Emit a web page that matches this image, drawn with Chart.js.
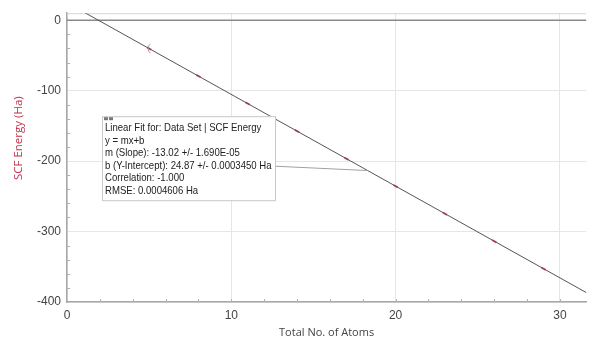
<!DOCTYPE html>
<html>
<head>
<meta charset="utf-8">
<script src="https://cdn.jsdelivr.net/npm/chart.js@4.4.0/dist/chart.umd.min.js"></script>
<style>
  html, body { margin: 0; padding: 0; background: #fff; }
  #wrap { width: 592px; height: 339px; position: relative; }
</style>
</head>
<body>
<div id="wrap"><canvas id="fitChart" width="592" height="339"></canvas></div>
<script>
// measured data (Total No. of Atoms vs SCF Energy)
const atoms = [5, 8, 11, 14, 17, 20, 23, 26, 29];
const energies = [-40.23, -79.29, -118.35, -157.41, -196.47, -235.53, -274.59, -313.65, -352.71];

// linear fit result shown in the annotation box
const fitSlope = -13.02;
const fitIntercept = 24.87;
const fitRange = [0, 32];

const xTicks = [0, 10, 20, 30];
const yTicks = [0, -100, -200, -300, -400];

const yTitle = 'SCF Energy (Ha)';
const fitLines = [
    'Linear Fit for: Data Set | SCF Energy',
    'y = mx+b',
    'm (Slope): -13.02 +/- 1.690E-05',
    'b (Y-Intercept): 24.87 +/- 0.0003450 Ha',
    'Correlation: -1.000',
    'RMSE: 0.0004606 Ha'
];

const points = atoms.map((x, i) => ({ x: x, y: energies[i] }));
const fitPoints = fitRange.map(x => ({ x: x, y: fitSlope * x + fitIntercept }));

// extra decorations: zero line, minor ticks, error bar, fit annotation
const decorPlugin = {
    id: 'decor',
    beforeDatasetsDraw(chart) {
        const { ctx, chartArea, scales } = chart;
        const xs = scales.x, ys = scales.y;
        ctx.save();
        // top border
        ctx.strokeStyle = '#d6d6d6';
        ctx.lineWidth = 1;
        ctx.beginPath();
        ctx.moveTo(chartArea.left, chartArea.top + 0.5);
        ctx.lineTo(chartArea.right, chartArea.top + 0.5);
        ctx.stroke();
        // zero line
        const y0 = ys.getPixelForValue(0);
        ctx.strokeStyle = '#8a8a8a';
        ctx.lineWidth = 1.5;
        ctx.beginPath();
        ctx.moveTo(chartArea.left, y0);
        ctx.lineTo(chartArea.right, y0);
        ctx.stroke();
        // minor ticks on x axis
        ctx.strokeStyle = '#b0b0b0';
        ctx.lineWidth = 1;
        for (let v = 2; v < xs.max; v += 2) {
            const px = Math.round(xs.getPixelForValue(v)) + 0.5;
            ctx.beginPath();
            ctx.moveTo(px, chartArea.bottom);
            ctx.lineTo(px, chartArea.bottom - 3);
            ctx.stroke();
        }
        // minor ticks on y axis
        for (let v = -380; v < 0; v += 20) {
            if (v % 100 === 0) continue;
            const py = Math.round(ys.getPixelForValue(v)) + 0.5;
            ctx.beginPath();
            ctx.moveTo(chartArea.left, py);
            ctx.lineTo(chartArea.left + 3, py);
            ctx.stroke();
        }
        ctx.restore();
    },
    afterDatasetsDraw(chart) {
        const { ctx, chartArea, scales } = chart;
        const xs = scales.x, ys = scales.y;
        ctx.save();
        // small error bracket on first point
        const ex = xs.getPixelForValue(atoms[0]);
        const ey = ys.getPixelForValue(energies[0]);
        ctx.strokeStyle = '#999';
        ctx.lineWidth = 1;
        ctx.beginPath();
        ctx.arc(ex + 5, ey, 6, Math.PI * 0.72, Math.PI * 1.28);
        ctx.stroke();

        // annotation box
        const bx = chartArea.left + 35, by = chartArea.top + 103;
        const bw = 173, bh = 84;
        // leader line to fit
        const lx = 18.3;
        ctx.strokeStyle = '#a0a0a0';
        ctx.beginPath();
        ctx.moveTo(bx + bw, by + 50);
        ctx.lineTo(xs.getPixelForValue(lx), ys.getPixelForValue(fitSlope * lx + fitIntercept));
        ctx.stroke();

        ctx.fillStyle = '#fff';
        ctx.fillRect(bx, by, bw, bh);
        ctx.strokeStyle = '#c8c8c8';
        ctx.strokeRect(bx + 0.5, by + 0.5, bw, bh);
        ctx.fillStyle = '#777';
        ctx.fillRect(bx + 2, by + 1, 4, 3);
        ctx.fillRect(bx + 7, by + 1, 4, 3);
        ctx.fillStyle = '#222';
        ctx.font = '10.3px "Liberation Sans", Arial, sans-serif';
        ctx.textBaseline = 'middle';
        fitLines.forEach((t, i) => {
            const w = ctx.measureText(t).width * 0.93;
            ctx.fillText(t, bx + 3, by + 12 + i * 12.6, w);
        });

        // y axis title, sits above the plot centre
        ctx.translate(19, chartArea.top + 125);
        ctx.rotate(-Math.PI / 2);
        ctx.fillStyle = '#c0304a';
        ctx.font = '11.5px "Open Sans", sans-serif';
        ctx.textAlign = 'center';
        ctx.textBaseline = 'middle';
        ctx.fillText(yTitle, 0, 0);
        ctx.restore();
    }
};

const ctx = document.getElementById('fitChart').getContext('2d');
const chart = new Chart(ctx, {
    type: 'scatter',
    data: {
        datasets: [{
            label: 'Linear Fit',
            data: fitPoints,
            showLine: true,
            borderColor: '#555',
            borderWidth: 1,
            pointRadius: 0,
            fill: false
        }, {
            label: 'SCF Energy',
            data: points,
            pointStyle: 'line',
            rotation: 29,
            pointRadius: 2.5,
            borderColor: '#e0405e',
            borderWidth: 1.8,
            showLine: false
        }]
    },
    options: {
        responsive: false,
        animation: false,
        devicePixelRatio: 1,
        layout: { padding: { top: 12, right: 0, left: 0, bottom: 0 } },
        plugins: {
            legend: { display: false },
            tooltip: { enabled: false }
        },
        scales: {
            x: {
                type: 'linear',
                min: 0,
                max: 31.6,
                afterBuildTicks: s => { s.ticks = xTicks.map(v => ({ value: v })); },
                afterFit: s => { s.height = 37; },
                grid: { color: '#e6e6e6', drawTicks: false },
                border: { color: '#a8a8a8', width: 1.5 },
                ticks: {
                    color: '#444',
                    padding: 6,
                    font: { family: '"Liberation Sans", Arial, sans-serif', size: 12 }
                },
                title: {
                    display: true,
                    text: 'Total No. of Atoms',
                    color: '#444',
                    padding: { top: 0, bottom: 0 },
                    font: { family: '"Open Sans", sans-serif', size: 11 }
                }
            },
            y: {
                type: 'linear',
                min: -400,
                max: 10,
                afterBuildTicks: s => { s.ticks = yTicks.map(v => ({ value: v })); },
                afterFit: s => { s.width = 67; },
                grid: { color: '#e6e6e6', drawTicks: false },
                border: { color: '#a8a8a8', width: 1.5 },
                ticks: {
                    color: '#444',
                    padding: 6,
                    font: { family: '"Liberation Sans", Arial, sans-serif', size: 12 }
                },
                title: { display: false }
            }
        }
    },
    plugins: [decorPlugin]
});
</script>
</body>
</html>
